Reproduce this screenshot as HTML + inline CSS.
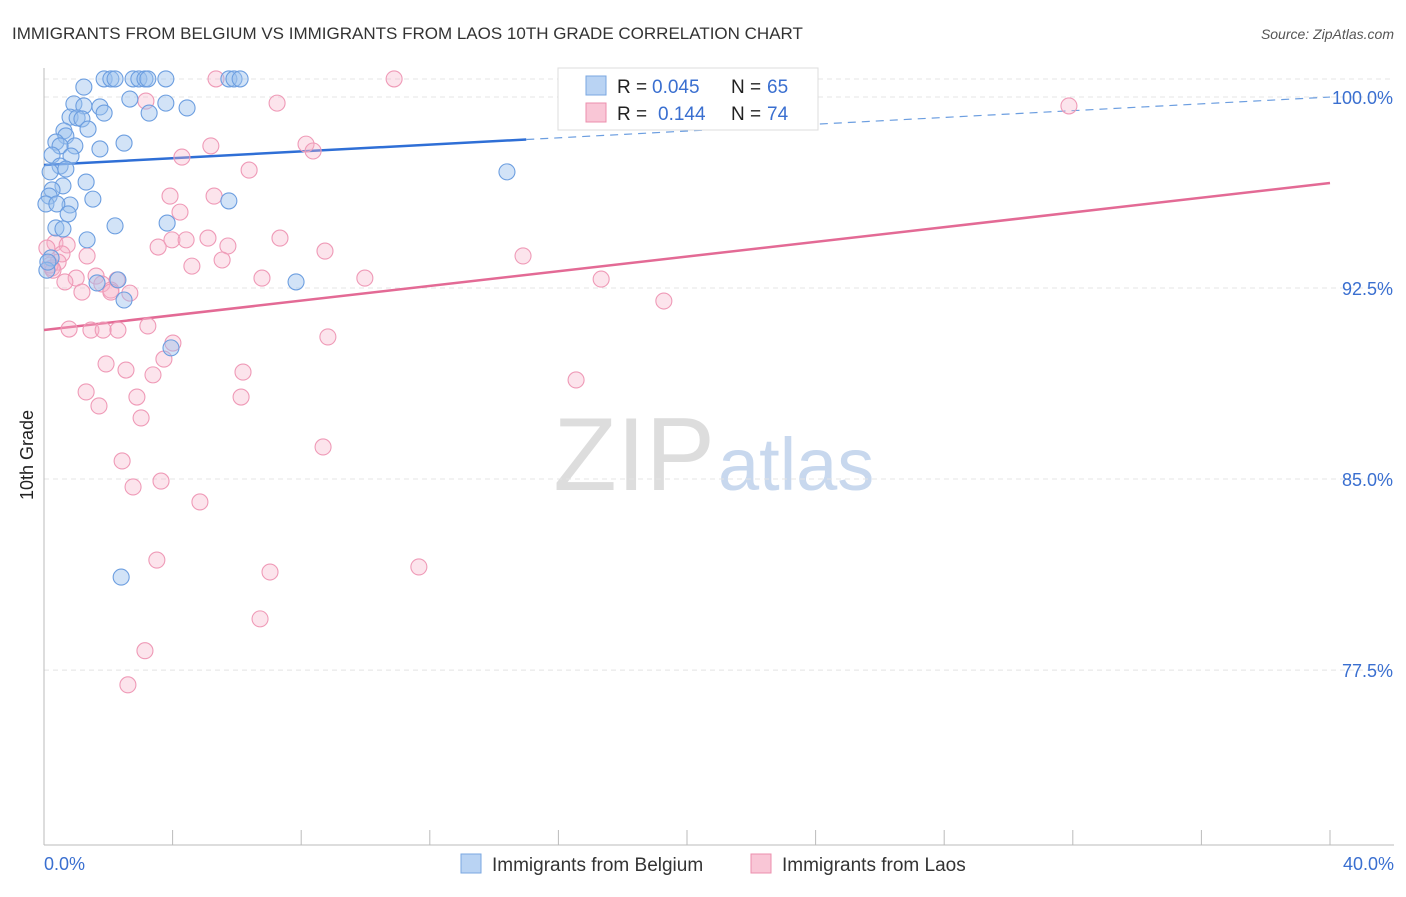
<!DOCTYPE html>
<html><head><meta charset="utf-8"><style>
body{margin:0;background:#fff;font-family:"Liberation Sans",sans-serif;}
svg text{font-family:"Liberation Sans",sans-serif;}
</style></head><body>
<svg id="chart" width="1406" height="892">
<text x="12" y="39" font-size="17" fill="#333">IMMIGRANTS FROM BELGIUM VS IMMIGRANTS FROM LAOS 10TH GRADE CORRELATION CHART</text>
<text x="1394" y="39" font-size="14" fill="#555" font-style="italic" text-anchor="end">Source: ZipAtlas.com</text>
<text x="715" y="490" font-size="104" fill="#ddd" font-family="Liberation Serif" text-anchor="end">ZIP</text>
<text x="718" y="490" font-size="74" fill="#c8d8ee">atlas</text>
<text transform="translate(33,455) rotate(-90)" font-size="18" fill="#222" text-anchor="middle">10th Grade</text>
<g id="grid"></g><g id="axes"></g><g id="trend"></g><g id="pts"></g>
<g>
<rect x="558" y="68" width="260" height="62" fill="#fff" stroke="#ddd"/>
<rect x="586" y="76" width="20" height="19" fill="#b9d3f3" stroke="#7aa7e0"/>
<text x="617" y="93" font-size="19" fill="#222">R =</text>
<text x="652" y="93" font-size="19" fill="#3a6fd0">0.045</text>
<text x="731" y="93" font-size="19" fill="#222">N =</text>
<text x="767" y="93" font-size="19" fill="#3a6fd0">65</text>
<rect x="586" y="103" width="20" height="19" fill="#f9c6d6" stroke="#ec8fad"/>
<text x="617" y="120" font-size="19" fill="#222">R =</text>
<text x="658" y="120" font-size="19" fill="#3a6fd0">0.144</text>
<text x="731" y="120" font-size="19" fill="#222">N =</text>
<text x="767" y="120" font-size="19" fill="#3a6fd0">74</text>
</g>
<g>
<rect x="461" y="854" width="20" height="19" fill="#b9d3f3" stroke="#7aa7e0"/>
<text x="492" y="871" font-size="19" fill="#333">Immigrants from Belgium</text>
<rect x="751" y="854" width="20" height="19" fill="#f9c6d6" stroke="#ec8fad"/>
<text x="782" y="871" font-size="19" fill="#333">Immigrants from Laos</text>
</g>
</svg>
<script>
const yTicks=[100,92.5,85,77.5];
const yTickLabels=["100.0%","92.5%","85.0%","77.5%"];
const xTickVals=[0,4,8,12,16,20,24,28,32,36,40];
const blueX=[1.87,2.08,2.21,2.77,2.95,3.14,3.23,3.79,5.75,5.91,6.10,1.24,0.93,1.24,1.74,1.87,2.67,3.79,4.45,3.27,0.81,1.03,1.18,1.37,0.62,0.68,0.37,0.96,1.74,2.49,0.5,0.84,0.25,0.5,0.19,0.68,1.31,0.59,0.25,0.16,1.52,0.06,0.81,0.4,0.75,5.75,14.4,0.37,3.83,2.21,0.59,1.34,0.22,2.3,1.65,2.49,7.84,3.95,2.4,0.09,0.12];
const blueY=[100.71,100.71,100.71,100.71,100.71,100.71,100.71,100.71,100.71,100.71,100.71,100.39,99.73,99.65,99.61,99.37,99.92,99.76,99.57,99.37,99.21,99.18,99.14,98.74,98.67,98.47,98.23,98.08,97.96,98.19,98.08,97.68,97.72,97.29,97.06,97.17,96.66,96.51,96.35,96.11,95.99,95.8,95.76,95.8,95.41,95.92,97.06,94.86,95.05,94.94,94.82,94.39,93.68,92.82,92.7,92.03,92.74,90.15,81.15,93.2,93.52];
const pinkX=[5.35,10.89,7.25,3.17,31.88,5.19,8.15,8.37,4.29,6.38,3.92,5.29,4.23,0.34,0.09,0.72,0.56,0.44,0.25,1.34,3.55,3.98,4.42,5.1,5.72,7.34,8.74,14.9,4.6,5.54,1.0,0.65,1.62,1.8,2.27,6.78,9.98,17.33,1.18,2.08,2.67,19.28,2.08,3.23,0.78,1.46,1.84,2.3,8.83,4.01,3.73,1.93,2.55,3.39,6.19,16.55,1.31,2.89,6.13,1.71,3.02,8.68,2.43,2.77,3.64,4.85,3.51,7.03,11.66,6.72,3.14,2.61,0.19,0.28];
const pinkY=[100.71,100.71,99.76,99.84,99.65,98.08,98.15,97.88,97.64,97.13,96.11,96.11,95.48,94.27,94.07,94.19,93.84,93.52,93.29,93.76,94.11,94.39,94.39,94.46,94.15,94.46,93.95,93.76,93.36,93.6,92.89,92.74,92.97,92.66,92.82,92.89,92.89,92.85,92.34,92.42,92.3,91.99,92.34,91.01,90.89,90.85,90.85,90.85,90.58,90.34,89.71,89.52,89.28,89.09,89.2,88.89,88.42,88.22,88.22,87.87,87.4,86.26,85.71,84.69,84.92,84.1,81.82,81.35,81.55,79.51,78.26,76.92,93.4,93.2];
const blueTrend=[97.33,0.0667];
const pinkTrend=[90.85,0.1443];
const NS="http://www.w3.org/2000/svg";
const sx=v=>44+v*32.15, sy=v=>97+(100-v)*25.47;
function mk(p,t,a){const e=document.createElementNS(NS,t);for(const k in a)e.setAttribute(k,a[k]);document.getElementById(p).appendChild(e);return e;}
yTicks.forEach((t,i)=>{
 const l=mk('grid','line',{x1:44,x2:1394,y1:sy(t),y2:sy(t),stroke:'#e4e4e4','stroke-dasharray':'5,4'});
 
 
 const tx=mk('grid','text',{x:1393,y:sy(t)+7,'font-size':18,fill:'#3a6fd0','text-anchor':'end'});
 tx.textContent=yTickLabels[i];
 
 
});
const topLine=mk('grid','line',{x1:44,x2:1394,y1:79,y2:79,stroke:'#e4e4e4','stroke-dasharray':'5,4'});


const ya=mk('axes','line',{x1:44,x2:44,y1:68,y2:845,stroke:'#bbb'});


const xa=mk('axes','line',{x1:44,x2:1394,y1:845,y2:845,stroke:'#bbb'});


xTickVals.forEach(v=>{const t=mk('axes','line',{x1:sx(v),x2:sx(v),y1:830,y2:845,stroke:'#bbb'});
 
 });
const x0=mk('axes','text',{x:44,y:870,'font-size':18,fill:'#3a6fd0'});x0.textContent='0.0%';


const x1=mk('axes','text',{x:1394,y:870,'font-size':18,fill:'#3a6fd0','text-anchor':'end'});x1.textContent='40.0%';


function pts(X,Y,f,s,n){X.forEach((x,i)=>{const c=mk('pts','circle',{cx:sx(x),cy:sy(Y[i]),r:8,fill:f,stroke:s,'stroke-width':1.1});
 
 });}
pts(pinkX,pinkY,'rgba(246,178,201,0.35)','#ef9ab7','point-laos');
pts(blueX,blueY,'rgba(155,192,238,0.45)','#6c9ee0','point-belgium');
const tb=(v)=>blueTrend[0]+blueTrend[1]*v, tp=(v)=>pinkTrend[0]+pinkTrend[1]*v;
const b1=mk('trend','line',{x1:sx(0),y1:sy(tb(0)),x2:sx(15),y2:sy(tb(15)),stroke:'#2f6fd6','stroke-width':2.5});


const b2=mk('trend','line',{x1:sx(15),y1:sy(tb(15)),x2:sx(40),y2:sy(tb(40)),stroke:'#6c9ee0','stroke-width':1.2,'stroke-dasharray':'8,6'});


const p1=mk('trend','line',{x1:sx(0),y1:sy(tp(0)),x2:sx(40),y2:sy(tp(40)),stroke:'#e36a95','stroke-width':2.5});


</script>
</body></html>
